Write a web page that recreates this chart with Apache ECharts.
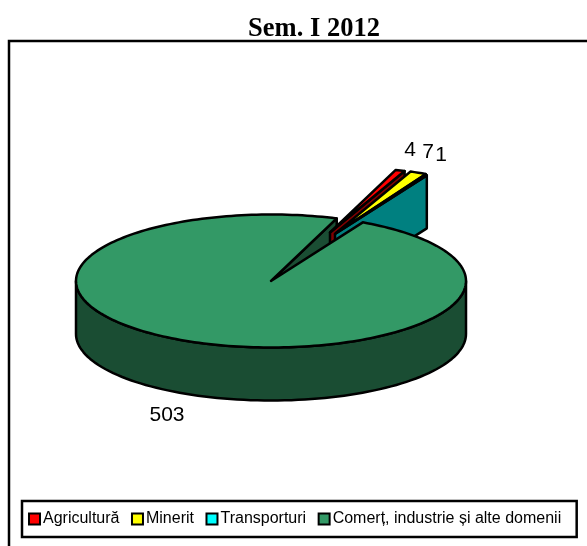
<!DOCTYPE html>
<html><head><meta charset="utf-8">
<style>html,body{margin:0;padding:0;background:#fff}#c{width:587px;height:546px}</style>
<script src="https://cdn.jsdelivr.net/npm/echarts@6/dist/echarts.min.js"></script>
</head><body><div id="c"></div>
<script>
const categories = ['Agricultură','Minerit','Transporturi','Comerț, industrie și alte domenii'];
const values = [4,7,1,503];
const topColors = ['#FF0000','#FFFF00','#00FFFF','#339966'];
const sideColors = ['#800000','#808000','#008080','#1A4D33'];
const labelPos = [[410,150],[428,152],[441,155],[167,415]];
const explodeOffsets = [[59,-48.5],[65,-48],[64,-47],[0,0]];

const G = {cx:271, cy:281, rx:195, ry:66.5, depth:53, start:70.3};
const total = values.reduce((a,b)=>a+b,0);
const rad = d=>d*Math.PI/180;
function pt(ox,oy,a){return [ox+G.rx*Math.cos(rad(a)), oy-G.ry*Math.sin(rad(a))];}
function stroke(fill){return {fill:fill, stroke:'#000', lineWidth:2.5, lineJoin:'round'};}

function angles(i, v){
  let before = 0; for(let k=0;k<i;k++) before += values[k];
  const a0 = G.start - before/total*360;
  return [a0, a0 - v/total*360];
}

// the far cut face of the big slice lies behind the exploded slices
function renderFace(params, api){
  const v = api.value(0);
  const [a0,a1] = angles(3, v);
  const e = pt(G.cx,G.cy,a1);
  return {type:'polygon',shape:{points:[[G.cx,G.cy],e,[e[0],e[1]+G.depth],[G.cx,G.cy+G.depth]]},style:stroke(sideColors[3])};
}

function renderSlice(params, api){
  const i = api.value(1);
  const v = api.value(0);
  const [a0,a1] = angles(i, v);
  const ox = G.cx + explodeOffsets[i][0];
  const oy = G.cy + explodeOffsets[i][1];
  const d = G.depth;
  const children = [];
  const top = [[ox,oy]];
  const n = Math.max(2, Math.ceil((a0-a1)/1.5));
  for(let k=0;k<=n;k++) top.push(pt(ox,oy,a0+(a1-a0)*k/n));
  if(i<3){
    const e = pt(ox,oy,a1);
    children.push({type:'polygon',shape:{points:[[ox,oy],e,[e[0],e[1]+d],[ox,oy+d]]},style:stroke(sideColors[i])});
  } else {
    const w=[];
    for(let a=180;a<=360;a+=2) w.push(pt(ox,oy,a));
    for(let a=360;a>=180;a-=2){const p=pt(ox,oy,a); w.push([p[0],p[1]+d]);}
    children.push({type:'polygon',shape:{points:w},style:stroke(sideColors[i])});
  }
  children.push({type:'polygon',shape:{points:top},style:stroke(topColors[i])});
  children.push({type:'text',z2:100,style:{text:String(v),x:labelPos[i][0],y:labelPos[i][1],align:'center',verticalAlign:'middle',
    font:'21px "Liberation Sans"',fill:'#000'}});
  return {type:'group',children};
}

const chart = echarts.init(document.getElementById('c'),null,{renderer:'canvas'});
chart.setOption({
  animation:false,
  backgroundColor:'#fff',
  title:{text:'Sem. I 2012',left:309,top:11,textAlign:'center',
    textStyle:{fontFamily:'Liberation Serif',fontWeight:'bold',fontSize:26.5,color:'#000'}},
  legend:{
    data:categories,left:22,top:501,orient:'horizontal',
    icon:'rect',itemWidth:11,itemHeight:11,itemGap:11.5,
    padding:[10,15.5,10,6],
    backgroundColor:'#fff',borderColor:'#000',borderWidth:2.5,borderRadius:0,
    itemStyle:{borderColor:'#000',borderWidth:2},
    textStyle:{fontFamily:'Liberation Sans',fontSize:16,color:'#000',padding:[0,0,0,-2]}
  },
  graphic:[{type:'rect',z:-10,shape:{x:9,y:41,width:620,height:560},style:{fill:'none',stroke:'#000',lineWidth:2.5}}],
  series:[
    {type:'custom',name:'_face',coordinateSystem:'none',renderItem:renderFace,silent:true,data:[[values[3]]]}
  ].concat(categories.map((name,i)=>({
    type:'custom',name,coordinateSystem:'none',renderItem:renderSlice,
    itemStyle:{color:topColors[i]},silent:true,
    data:[[values[i],i]]
  })))
});
</script></body></html>
